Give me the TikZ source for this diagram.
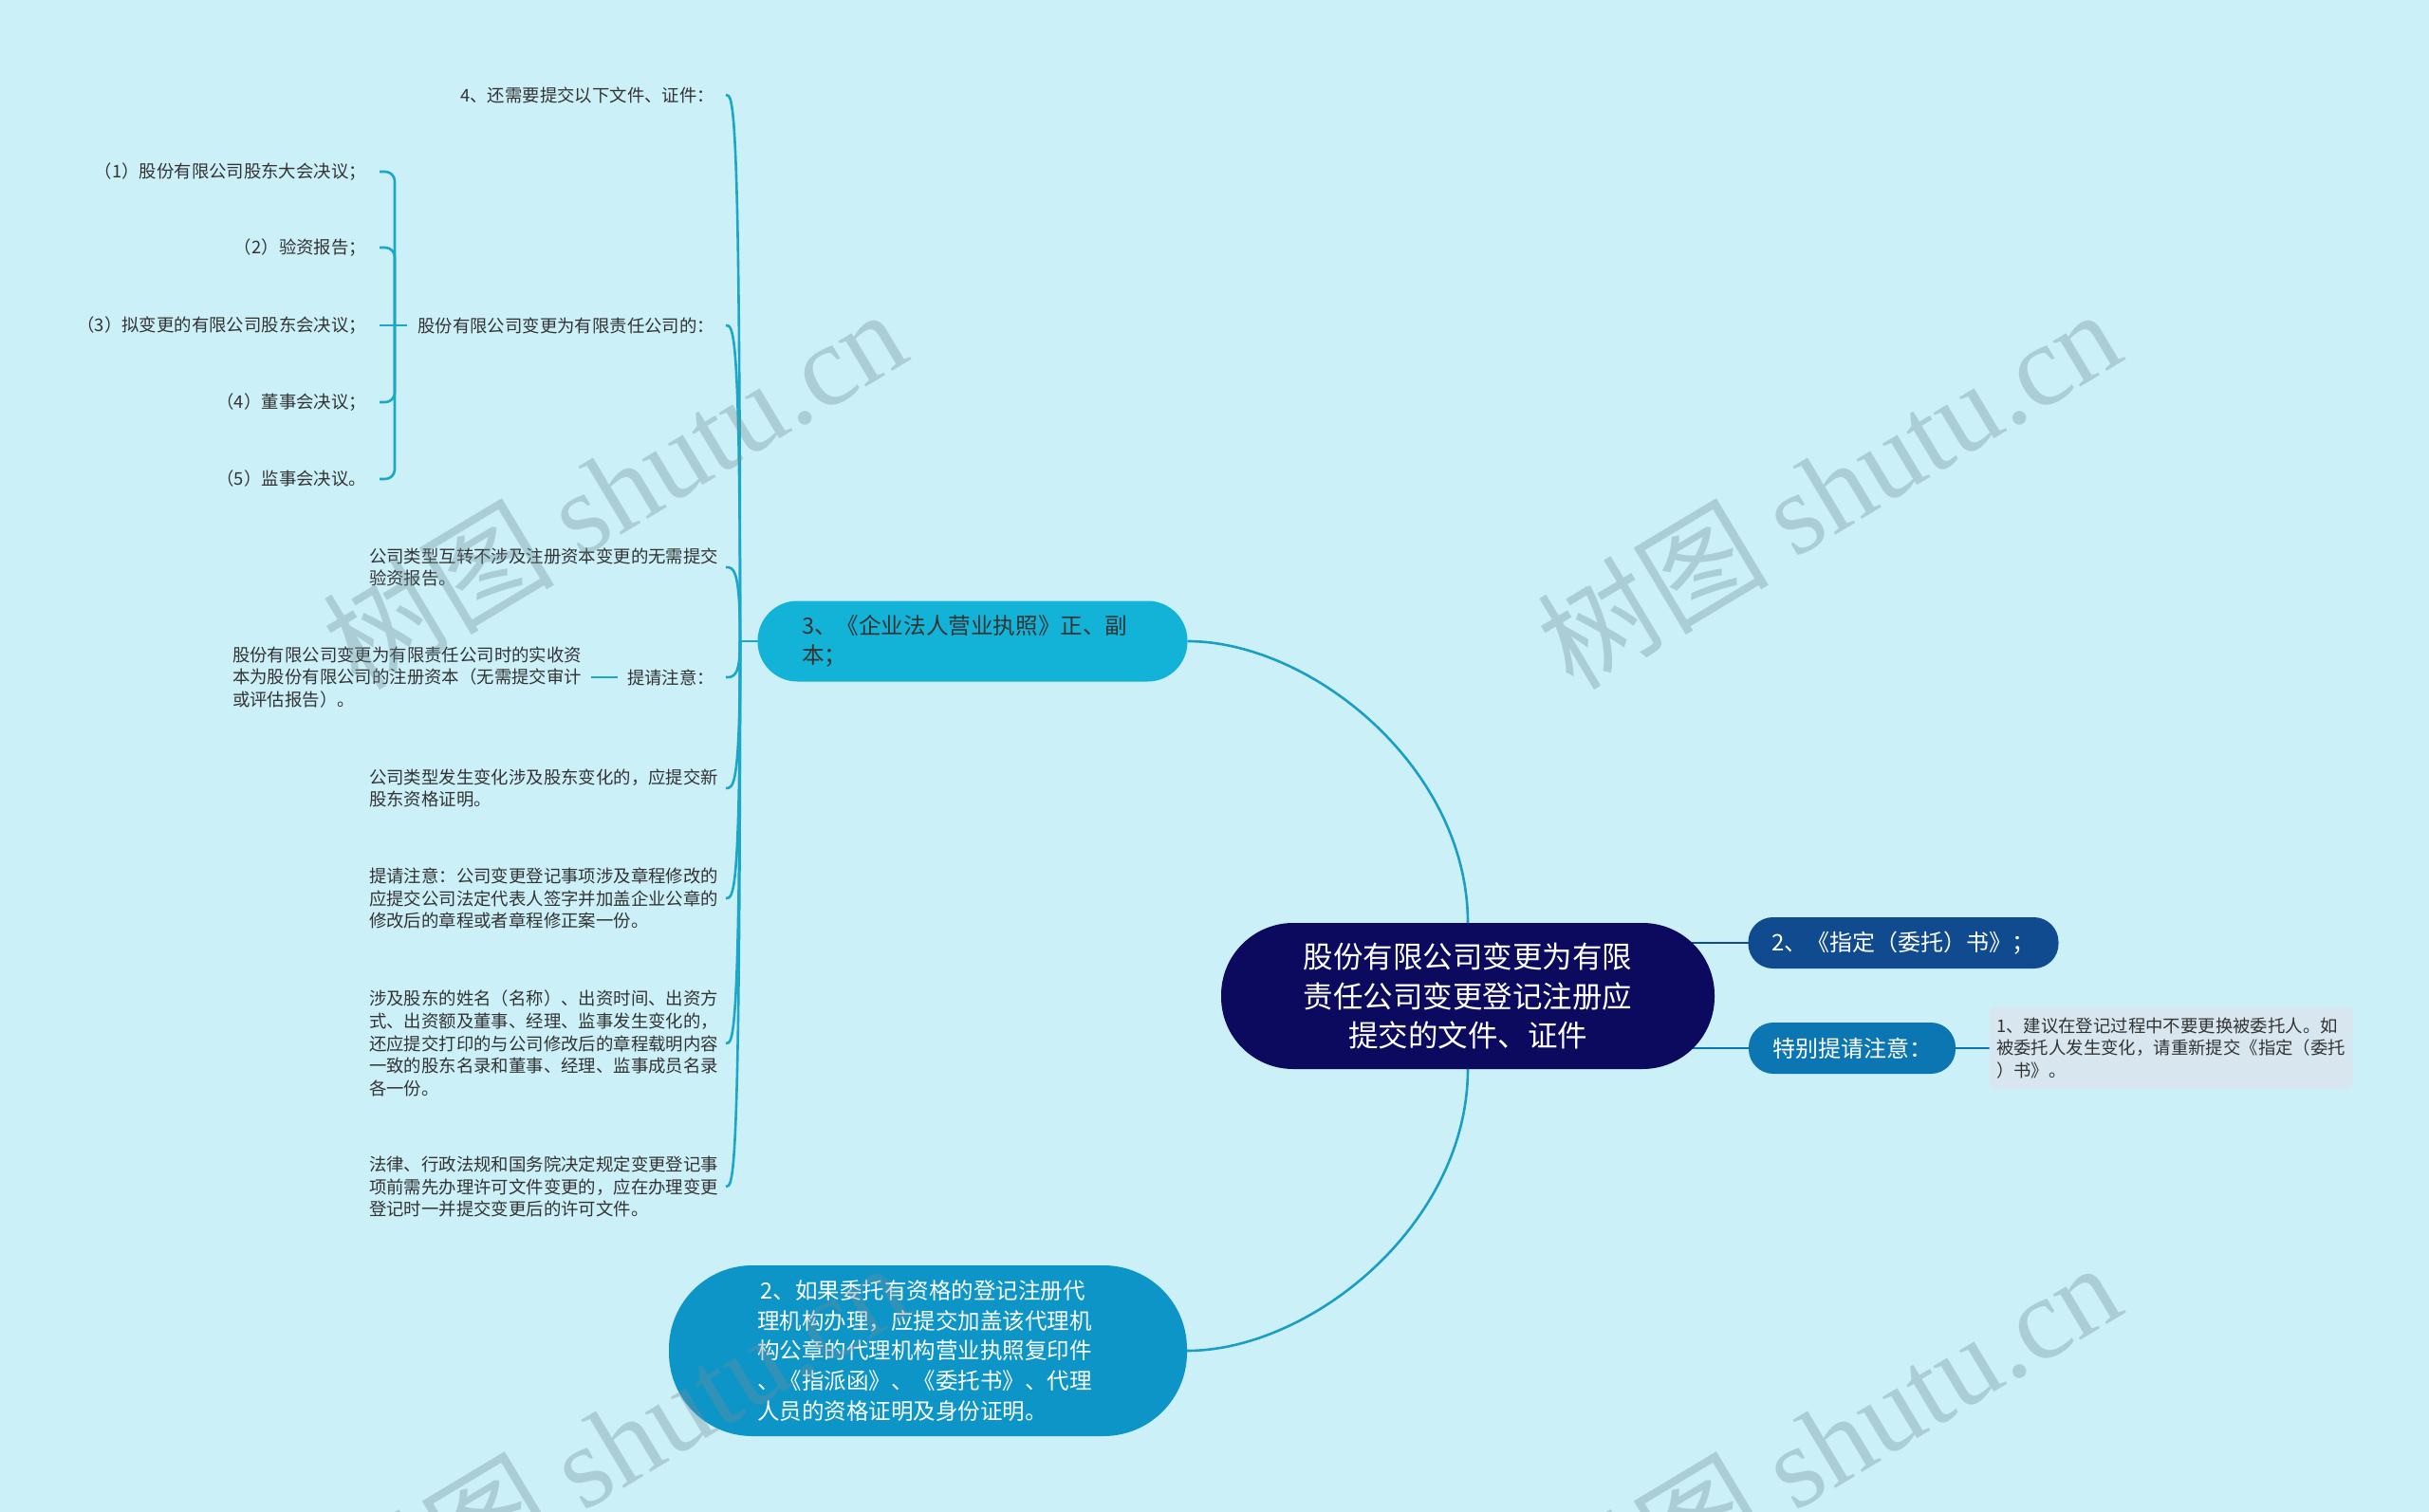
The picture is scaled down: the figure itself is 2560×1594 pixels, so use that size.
\documentclass[tikz,border=0pt]{standalone}
\usepackage{fontspec}
\setmainfont{Noto Sans CJK SC}
\newfontfamily\wmlatin{Liberation Serif}
\usetikzlibrary{calc}
\pgfdeclarelayer{back}
\pgfdeclarelayer{bg}
\pgfsetlayers{back,bg,main}
\definecolor{bgc}{HTML}{CCF0F8}
\definecolor{navy}{HTML}{0B0A5E}
\definecolor{zdc}{HTML}{114B8F}
\definecolor{tbc}{HTML}{0C76B3}
\definecolor{notec}{HTML}{D8E7EF}
\definecolor{nthree}{HTML}{13B3D8}
\definecolor{ntwo}{HTML}{0D95C8}
\definecolor{lcc}{HTML}{1CA6C8}
\definecolor{mcc}{HTML}{1B9EC3}
\definecolor{txt}{HTML}{333333}
\definecolor{wmc}{HTML}{6F8E96}
\begin{document}
\begin{tikzpicture}[x=0.5pt,y=-0.5pt,
  every node/.style={inner sep=0pt,outer sep=0pt},
  mainbox/.style={fill=navy,text=white,minimum width=260pt,minimum height=77pt,rounded corners=38pt,align=center,font=\fontsize{15.75pt}{20.8pt}\selectfont},
  zdbox/.style={fill=zdc,text=white,minimum width=163.5pt,minimum height=27pt,rounded corners=13pt,align=center,font=\fontsize{12pt}{15pt}\selectfont},
  tbbox/.style={fill=tbc,text=white,minimum width=109pt,minimum height=27pt,rounded corners=13pt,align=center,font=\fontsize{12pt}{15pt}\selectfont},
  notebox/.style={fill=notec,text=txt,minimum width=191.5pt,minimum height=43.5pt,rounded corners=3pt,align=left,font=\fontsize{9.2pt}{11.8pt}\selectfont},
  threebox/.style={fill=nthree,text=txt,minimum width=226.5pt,minimum height=42.5pt,rounded corners=21pt,align=left,text width=180pt,font=\fontsize{11.8pt}{15.5pt}\selectfont},
  twobox/.style={fill=ntwo,text=white,minimum width=273pt,minimum height=90pt,rounded corners=44pt,align=left,text width=180pt,font=\fontsize{11.75pt}{15.9pt}\selectfont},
  small/.style={text=txt,align=left,font=\fontsize{9.2pt}{11.8pt}\selectfont},
  lc/.style={draw=lcc,line width=1.3pt},
  mc/.style={draw=mcc,line width=1.3pt},
  rca/.style={draw=zdc,line width=1.3pt},
  rcb/.style={draw=tbc,line width=1.3pt},
  wm/.style={text=wmc,text opacity=0.35,font=\fontsize{61pt}{61pt}\selectfont,rotate=31}
]
\useasboundingbox (0,0) rectangle (2560,1594);
\begin{pgfonlayer}{back}
\fill[bgc] (0,0) rectangle (2560,1594);
\end{pgfonlayer}

% central and right side
\node[mainbox] (c) at (1547,1050) {股份有限公司变更为有限\\责任公司变更登记注册应\\提交的文件、证件};
\node[zdbox] (zd) at (2006,994) {2、《指定（委托）书》；};
\node[tbbox] (tb) at (1952,1105) {特别提请注意：};
\node[notebox] (nt) at (2288,1105) {1、建议在登记过程中不要更换被委托人。如\\被委托人发生变化，请重新提交《指定（委托\\）书》。};

% left main branches
\node[threebox] (n3) at (1025,676) {3、《企业法人营业执照》正、副\\本；};
\node[twobox] (n2) at (978,1424) {\,2、如果委托有资格的登记注册代\\理机构办理，应提交加盖该代理机\\构公章的代理机构营业执照复印件\\、《指派函》、《委托书》、代理\\人员的资格证明及身份证明。};

% children of n3
\coordinate (lx) at (765,0);
\coordinate (j3) at (780,676);
\node[small,anchor=east] (a1) at (753,100) {4、还需要提交以下文件、证件：};
\node[small,anchor=east] (a2) at (753,343) {股份有限公司变更为有限责任公司的：};
\node[small,anchor=west] (a3) at (389,598) {公司类型互转不涉及注册资本变更的无需提交\\验资报告。};
\node[small,anchor=east] (a4) at (753,714) {提请注意：};
\node[small,anchor=west] (a5) at (389,831) {公司类型发生变化涉及股东变化的，应提交新\\股东资格证明。};
\node[small,anchor=west] (a6) at (389,947) {提请注意：公司变更登记事项涉及章程修改的\\应提交公司法定代表人签字并加盖企业公章的\\修改后的章程或者章程修正案一份。};
\node[small,anchor=west] (a7) at (389,1100) {涉及股东的姓名（名称）、出资时间、出资方\\式、出资额及董事、经理、监事发生变化的，\\还应提交打印的与公司修改后的章程载明内容\\一致的股东名录和董事、经理、监事成员名录\\各一份。};
\node[small,anchor=west] (a8) at (389,1251) {法律、行政法规和国务院决定规定变更登记事\\项前需先办理许可文件变更的，应在办理变更\\登记时一并提交变更后的许可文件。};
\node[small,anchor=west] (b0) at (245,714) {股份有限公司变更为有限责任公司时的实收资\\本为股份有限公司的注册资本（无需提交审计\\或评估报告）。};

% children of a2
\coordinate (bx) at (416,343);
\node[small,anchor=east] (c1) at (386,181) {（1）股份有限公司股东大会决议；};
\node[small,anchor=east] (c2) at (386,261) {（2）验资报告；};
\node[small,anchor=east] (c3) at (386,343) {（3）拟变更的有限公司股东会决议；};
\node[small,anchor=east] (c4) at (386,424) {（4）董事会决议；};
\node[small,anchor=east] (c5) at (386,505) {（5）监事会决议。};

\begin{pgfonlayer}{bg}
  \draw[rca] (c.center |- zd) -- (zd.west);
  \draw[rcb] (c.center |- tb) -- (tb.west);
  \draw[rcb] (tb.east) -- (nt.west);
  \draw[mc] (c.north) .. controls ($(c.north)+(0,-163)$) and ($(n3.east)+(131,0)$) .. (n3.east);
  \draw[mc] (c.south) .. controls ($(c.south)+(0,163)$) and ($(n2.east)+(131,0)$) .. (n2.east);
  \draw[lc] (n3.west) -- (j3);
  \foreach \k in {a1,a2,a3,a4,a5,a6,a7,a8}{
    \draw[lc] (j3) .. controls (j3 |- \k) and ($(lx |- \k)+(8,0)$) .. (lx |- \k);
  }
  \draw[lc] ([xshift=5pt]b0.east |- a4) -- ([xshift=-5pt]a4.west);
  \draw[lc] ([xshift=-5.5pt]a2.west) -- (bx) -- ([xshift=7pt]c3.east);
  \foreach \k in {c1,c2,c4,c5}{
    \draw[lc,rounded corners=5pt] (bx) |- ([xshift=7pt]\k.east);
  }
\end{pgfonlayer}

% watermarks
\node[wm] (w1) at (647,514) {树图 {\wmlatin shutu.cn}};
\node[wm] (w2) at (1927,514) {树图 {\wmlatin shutu.cn}};
\node[wm] (w3) at (650,1519) {树图 {\wmlatin shutu.cn}};
\node[wm] (w4) at (1927,1519) {树图 {\wmlatin shutu.cn}};
\end{tikzpicture}
\end{document}
